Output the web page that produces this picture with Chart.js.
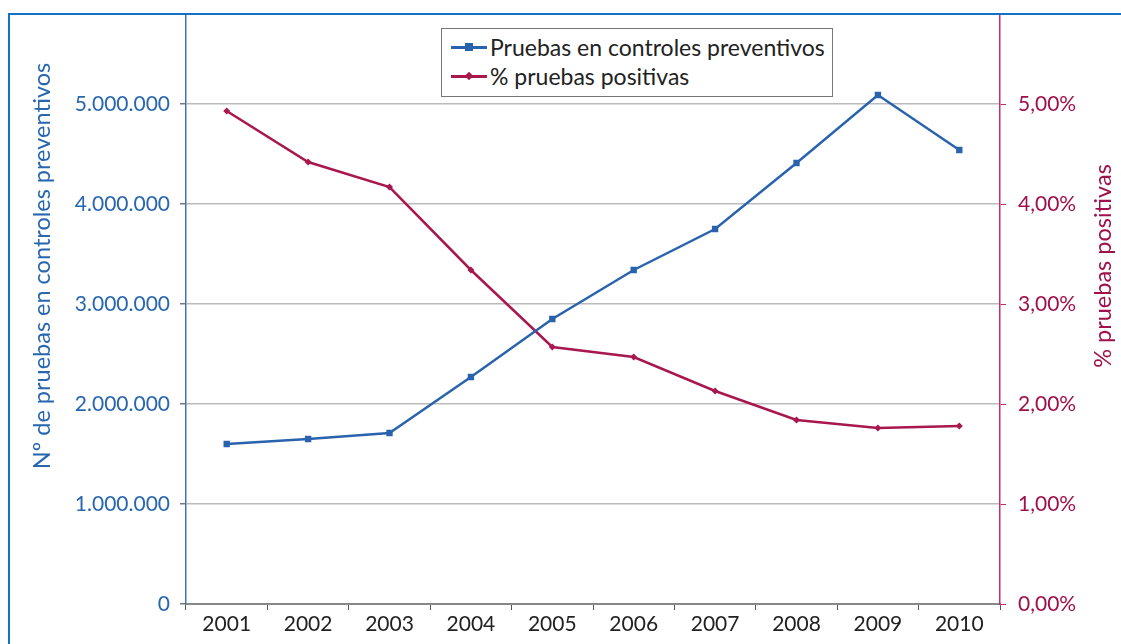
<!DOCTYPE html>
<html lang="es">
<head>
<meta charset="utf-8">
<title>Pruebas en controles preventivos</title>
<script src="https://cdn.jsdelivr.net/npm/chart.js@4.4.0/dist/chart.umd.min.js"></script>
<style>
  html, body { margin: 0; padding: 0; background: #fff; overflow: hidden; }
  #wrap { position: relative; width: 1121px; height: 644px; }
  #marco {
    position: absolute; left: 8px; top: 13px; width: 1200px; height: 700px;
    border-top: 2px solid #1470c4; border-left: 2px solid #1470c4;
  }
  #grafico { position: absolute; left: 0; top: 0; }
  #leyenda {
    position: absolute; left: 441px; top: 28px; width: 392px; height: 69px;
    border: 1px solid #777; background: #fff; box-sizing: border-box;
    font-family: Lato, "Open Sans", sans-serif; font-size: 23px; color: #222;
    padding-top: 3px;
  }
  .item { display: flex; align-items: center; height: 29px; }
  .muestra { position: relative; width: 36px; height: 20px; margin-left: 9px; margin-right: 3px; }
  .muestra .linea { position: absolute; left: 0; right: 0; top: 9px; height: 3px; }
  .muestra .marca { position: absolute; }
</style>
</head>
<body>
<div id="wrap">
  <canvas id="grafico" width="1121" height="644"></canvas>
  <div id="marco"></div>
  <div id="leyenda"></div>
</div>
<script>
// Datos
const anios = ['2001', '2002', '2003', '2004', '2005', '2006', '2007', '2008', '2009', '2010'];
const pruebas = [1600000, 1650000, 1710000, 2270000, 2850000, 3340000, 3750000, 4410000, 5090000, 4540000];
const positivas = [4.93, 4.42, 4.17, 3.34, 2.57, 2.47, 2.13, 1.84, 1.76, 1.78];
const ticksPruebas = [0, 1000000, 2000000, 3000000, 4000000, 5000000];
const ticksPorcentaje = [0, 1, 2, 3, 4, 5];

const azul = '#2a63ad';
const azulTexto = '#2867b0';
const rojo = '#a8174e';
const rojoTexto = '#a0104c';
const fuente = 'Lato, "Open Sans", sans-serif';

// Formato con punto de miles
function formatoMiles(v) {
  return String(Math.round(v)).replace(/\B(?=(\d{3})+(?!\d))/g, '.');
}

// Formato porcentaje con coma decimal
function formatoPorcentaje(v) {
  return v.toFixed(2).replace('.', ',') + '%';
}

// Títulos de los ejes girados (ambos se leen de abajo hacia arriba)
const titulosEjes = {
  id: 'titulosEjes',
  afterDraw(chart) {
    const ctx = chart.ctx;
    ctx.save();
    ctx.font = '23.5px ' + fuente;
    ctx.textAlign = 'center';
    ctx.textBaseline = 'middle';
    ctx.fillStyle = azulTexto;
    ctx.translate(42, 266);
    ctx.rotate(-Math.PI / 2);
    ctx.fillText('Nº de pruebas en controles preventivos', 0, 0);
    ctx.restore();

    ctx.save();
    ctx.font = '23.5px ' + fuente;
    ctx.textAlign = 'center';
    ctx.textBaseline = 'middle';
    ctx.fillStyle = rojoTexto;
    ctx.translate(1103, 266);
    ctx.rotate(-Math.PI / 2);
    ctx.fillText('% pruebas positivas', 0, 0);
    ctx.restore();
  }
};

const ctx = document.getElementById('grafico').getContext('2d');
const grafico = new Chart(ctx, {
  type: 'line',
  data: {
    labels: anios,
    datasets: [{
      label: 'Pruebas en controles preventivos',
      data: pruebas,
      yAxisID: 'y',
      borderColor: azul,
      backgroundColor: azul,
      borderWidth: 2.5,
      pointStyle: 'rect',
      pointRadius: 4.5,
      pointBorderWidth: 0,
      tension: 0,
    }, {
      label: '% pruebas positivas',
      data: positivas,
      yAxisID: 'y1',
      borderColor: rojo,
      backgroundColor: rojo,
      borderWidth: 2.5,
      pointStyle: 'rectRot',
      pointRadius: 3.5,
      pointBorderWidth: 0,
      tension: 0,
    }],
  },
  options: {
    responsive: false,
    animation: false,
    layout: { padding: { top: 14, left: 0, right: 0, bottom: 0 } },
    plugins: {
      legend: { display: false },
      tooltip: { enabled: false },
    },
    scales: {
      x: {
        offset: true,
        grid: {
          offset: true,
          drawOnChartArea: false,
          tickLength: 6,
          tickColor: '#555',
        },
        border: { color: '#888', width: 2 },
        ticks: { color: '#222', font: { family: fuente, size: 21 }, padding: 2 },
        afterFit(scale) { scale.height = 40; scale.paddingLeft = 0; scale.paddingRight = 0; },
      },
      y: {
        position: 'left',
        bounds: 'data',
        min: 0,
        max: 5900000,
        afterBuildTicks(scale) { scale.ticks = ticksPruebas.map(v => ({ value: v })); },
        grid: { color: '#bbb', lineWidth: 1.5, tickLength: 6, tickColor: '#777' },
        border: { color: '#3d74bd', width: 1.5 },
        ticks: {
          color: azulTexto,
          font: { family: fuente, size: 21 },
          padding: 10,
          callback: v => formatoMiles(v),
        },
        afterFit(scale) { scale.width = 186; scale.paddingTop = 0; scale.paddingBottom = 0; },
      },
      y1: {
        position: 'right',
        bounds: 'data',
        min: 0,
        max: 5.9,
        afterBuildTicks(scale) { scale.ticks = ticksPorcentaje.map(v => ({ value: v })); },
        grid: { drawOnChartArea: false, tickLength: 6, tickColor: '#c0306a' },
        border: { color: '#c0306a', width: 1.5 },
        ticks: {
          color: rojoTexto,
          font: { family: fuente, size: 21 },
          padding: 12,
          callback: v => formatoPorcentaje(v),
        },
        afterFit(scale) { scale.width = 121; scale.paddingTop = 0; scale.paddingBottom = 0; },
      },
    },
  },
  plugins: [titulosEjes],
});

// Leyenda HTML con recuadro, construida a partir de los datasets
const leyenda = document.getElementById('leyenda');
grafico.data.datasets.forEach(ds => {
  const item = document.createElement('div');
  item.className = 'item';
  const muestra = document.createElement('div');
  muestra.className = 'muestra';
  const linea = document.createElement('div');
  linea.className = 'linea';
  linea.style.background = ds.borderColor;
  const marca = document.createElement('div');
  marca.className = 'marca';
  marca.style.background = ds.borderColor;
  if (ds.pointStyle === 'rect') {
    marca.style.cssText += 'width:8px;height:8px;left:14px;top:6px;';
  } else {
    marca.style.cssText += 'width:6px;height:6px;left:15px;top:7px;transform:rotate(45deg);';
  }
  muestra.appendChild(linea);
  muestra.appendChild(marca);
  const texto = document.createElement('span');
  texto.textContent = ds.label;
  item.appendChild(muestra);
  item.appendChild(texto);
  leyenda.appendChild(item);
});
</script>
</body>
</html>
